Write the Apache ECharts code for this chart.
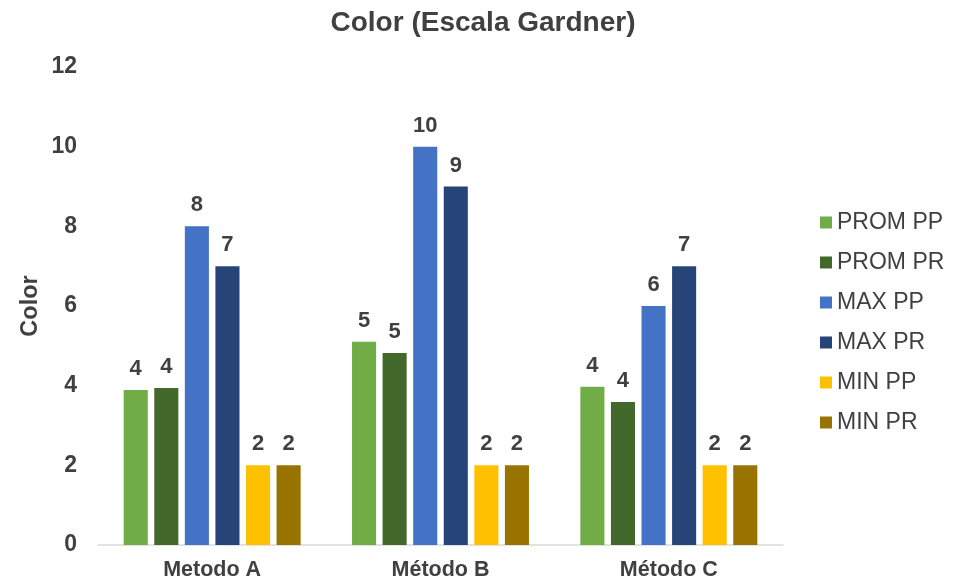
<!DOCTYPE html>
<html><head><meta charset="utf-8">
<script src="https://cdn.jsdelivr.net/npm/echarts@6/dist/echarts.min.js"></script>
<style>html,body{margin:0;padding:0;background:#fff}#c{width:966px;height:586px}</style>
</head><body><div id="c"></div>
<script>
const categories = ['Metodo A', 'Método B', 'Método C'];
const seriesNames = ['PROM PP', 'PROM PR', 'MAX PP', 'MAX PR', 'MIN PP', 'MIN PR'];
const promPP = [3.89, 5.1, 3.97];
const promPR = [3.94, 4.82, 3.59];
const maxPP = [8, 10, 6];
const maxPR = [7, 9, 7];
const minPP = [2, 2, 2];
const minPR = [2, 2, 2];
const yTicks = [0, 2, 4, 6, 8, 10, 12];
const colors = ['#70AD47', '#43682B', '#4472C4', '#264478', '#FFC000', '#997300'];

const values = [promPP, promPR, maxPP, maxPR, minPP, minPR];
const font = 'Liberation Sans, Arial, sans-serif';
const chart = echarts.init(document.getElementById('c'));
chart.setOption({
  animation: false,
  title: { text: 'Color (Escala Gardner)', left: 'center', top: 4,
    textStyle: { fontFamily: font, fontSize: 28, fontWeight: 'bold', color: '#404040' } },
  legend: { orient: 'vertical', left: 815, top: 206, itemWidth: 12, itemHeight: 12, itemGap: 17,
    icon: 'rect', textStyle: { fontFamily: font, fontSize: 23, color: '#404040' }, data: seriesNames },
  grid: { left: 98, right: 183, top: 67, bottom: 41 },
  xAxis: { type: 'category', data: categories,
    axisLine: { lineStyle: { color: '#d9d9d9', width: 1.5 } }, axisTick: { show: false },
    axisLabel: { fontFamily: font, fontSize: 21.5, fontWeight: 'bold', color: '#404040', margin: 14 } },
  yAxis: { type: 'value', min: yTicks[0], max: yTicks[yTicks.length - 1], interval: 2,
    name: 'Color', nameLocation: 'middle', nameGap: 55, nameRotate: 90, nameMoveOverlap: false,
    nameTextStyle: { fontFamily: font, fontSize: 23.5, fontWeight: 'bold', color: '#404040' },
    splitLine: { show: false }, axisLine: { show: false }, axisTick: { show: false },
    axisLabel: { fontFamily: font, fontSize: 23, fontWeight: 'bold', color: '#404040', margin: 21 } },
  series: seriesNames.map((n, i) => ({
    name: n, type: 'bar', data: values[i], barGap: '27%', barCategoryGap: '22.5%',
    itemStyle: { color: colors[i] },
    label: { show: true, position: 'top', distance: 10, fontFamily: font, fontSize: 22, fontWeight: 'bold', color: '#404040',
      formatter: p => Math.round(p.value) }
  }))
});
</script></body></html>
